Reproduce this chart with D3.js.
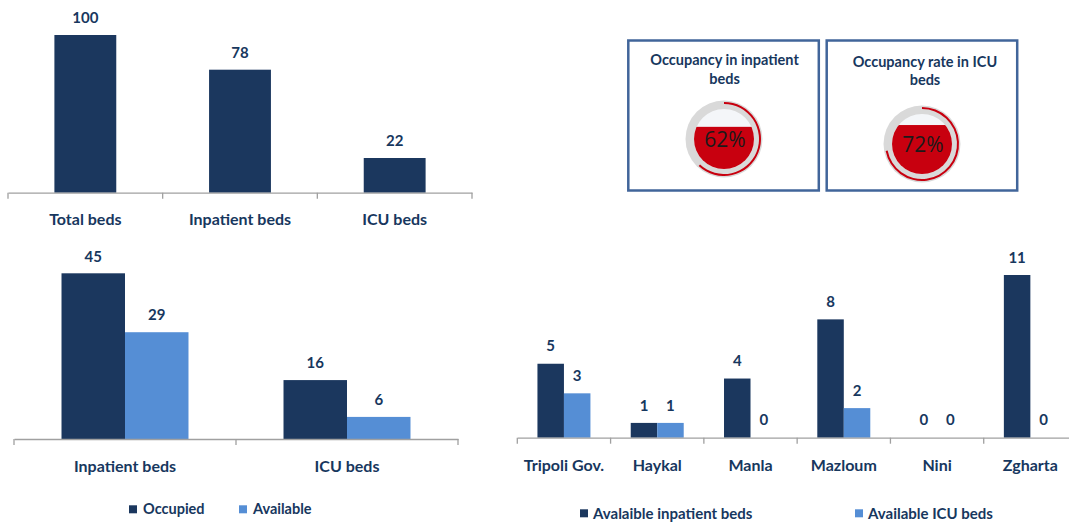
<!DOCTYPE html>
<html><head><meta charset="utf-8">
<script src="https://cdn.jsdelivr.net/npm/d3@7"></script>
<style>
html,body{margin:0;padding:0;background:#fff;}
svg{display:block;font-family:Lato,"Open Sans",sans-serif;}
</style></head>
<body>
<svg id="c" width="1069" height="522"></svg>
<script>
// ---- data ----
const summaryCats = ["Total beds", "Inpatient beds", "ICU beds"];
const summaryValues = [100, 78, 22];

const statusCats = ["Inpatient beds", "ICU beds"];
const occupiedValues = [45, 16];
const availableValues = [29, 6];
const statusLegend = ["Occupied", "Available"];

const hospitals = ["Tripoli Gov.", "Haykal", "Manla", "Mazloum", "Nini", "Zgharta"];
const availInpatient = [5, 1, 4, 8, 0, 11];
const availICU = [3, 1, 0, 2, 0, 0];
const hospitalLegend = ["Avalaible inpatient beds", "Available ICU beds"];

const gaugeTitles = [["Occupancy in inpatient", "beds"], ["Occupancy rate in ICU", "beds"]];
const gaugeValues = [62, 72];

// ---- style ----
const DARK = "#1b375e", LIGHT = "#558ed5", TXT = "#17375e", AX = "#a0a0a0";
const RED = "#c8000f";

const svg = d3.select("#c");
svg.append("rect").attr("width", 1069).attr("height", 522).attr("fill", "#fff");

function drawAxis(g, x, y0, pad, fs) {
  const ax = g.append("g").attr("transform", `translate(0,${y0})`)
    .call(d3.axisBottom(x).tickSize(0).tickPadding(pad));
  ax.select(".domain").attr("stroke", AX).attr("stroke-width", 1.3);
  ax.selectAll("text").attr("fill", TXT).attr("font-size", fs).attr("font-weight", 700)
    .attr("font-family", "Lato, sans-serif");
  const bounds = x.domain().map(d => x(d)).concat([x.range()[1]]);
  ax.selectAll(".bt").data(bounds).join("line").attr("class", "bt")
    .attr("x1", d => d).attr("x2", d => d).attr("y1", 0).attr("y2", 6)
    .attr("stroke", AX).attr("stroke-width", 1.3);
}

function valueLabel(g, x, y, v, fs) {
  g.append("text").attr("x", x).attr("y", y).attr("dy", "0.35em")
    .attr("text-anchor", "middle").attr("fill", TXT).attr("font-size", fs)
    .attr("font-weight", 700).text(v);
}

// ---- chart 1: summary ----
{
  const g = svg.append("g");
  const x = d3.scaleBand().domain(summaryCats).range([8, 472]).padding(0);
  const y = d3.scaleLinear().domain([0, 100]).range([192.7, 35]);
  const bw = x.bandwidth() * 0.4;
  summaryCats.forEach((c, i) => {
    const cx = x(c) + x.bandwidth() / 2;
    g.append("rect").attr("x", cx - bw / 2).attr("y", y(summaryValues[i]))
      .attr("width", bw).attr("height", y(0) - y(summaryValues[i])).attr("fill", DARK);
    valueLabel(g, cx, y(summaryValues[i]) - 17, summaryValues[i], 15);
  });
  drawAxis(g, x, 192.7, 20.5, 16);
}

// ---- chart 2: occupied vs available ----
{
  const g = svg.append("g");
  const x = d3.scaleBand().domain(statusCats).range([14, 458]).padding(0);
  const y = d3.scaleLinear().domain([0, 45]).range([439, 273.3]);
  const inner = d3.scaleBand().domain([0, 1]).range([0, x.bandwidth() * 0.572]);
  const series = [occupiedValues, availableValues];
  const colors = [DARK, LIGHT];
  statusCats.forEach((c, i) => {
    const x0 = x(c) + x.bandwidth() * (1 - 0.572) / 2;
    series.forEach((s, k) => {
      g.append("rect").attr("x", x0 + inner(k)).attr("y", y(s[i]))
        .attr("width", inner.bandwidth()).attr("height", y(0) - y(s[i])).attr("fill", colors[k]);
      valueLabel(g, x0 + inner(k) + inner.bandwidth() / 2, y(s[i]) - 17, s[i], 15);
    });
  });
  drawAxis(g, x, 439, 22, 16);
  const lx = [129, 239];
  statusLegend.forEach((t, k) => {
    g.append("rect").attr("x", lx[k]).attr("y", 509.3 - 4).attr("width", 8).attr("height", 8).attr("fill", colors[k]);
    g.append("text").attr("x", lx[k] + 14).attr("y", 509.3).attr("dy", "0.35em")
      .attr("fill", TXT).attr("font-size", 14.5).attr("font-weight", 700).text(t);
  });
}

// ---- chart 3: hospitals ----
{
  const g = svg.append("g");
  const x = d3.scaleBand().domain(hospitals).range([517.3, 1077]).padding(0);
  const y = d3.scaleLinear().domain([0, 11]).range([437.7, 275]);
  const frac = 0.568;
  const inner = d3.scaleBand().domain([0, 1]).range([0, x.bandwidth() * frac]);
  const series = [availInpatient, availICU];
  const colors = [DARK, LIGHT];
  hospitals.forEach((c, i) => {
    const x0 = x(c) + x.bandwidth() * (1 - frac) / 2;
    series.forEach((s, k) => {
      if (s[i] > 0) {
        g.append("rect").attr("x", x0 + inner(k)).attr("y", y(s[i]))
          .attr("width", inner.bandwidth()).attr("height", y(0) - y(s[i])).attr("fill", colors[k]);
      }
      valueLabel(g, x0 + inner(k) + inner.bandwidth() / 2, y(s[i]) - 17.5, s[i], 15);
    });
  });
  drawAxis(g, x, 437.7, 21.7, 16);
  const lx = [580, 855];
  hospitalLegend.forEach((t, k) => {
    g.append("rect").attr("x", lx[k]).attr("y", 513.3 - 4).attr("width", 8).attr("height", 8).attr("fill", colors[k]);
    g.append("text").attr("x", lx[k] + 13).attr("y", 513.3).attr("dy", "0.35em")
      .attr("fill", TXT).attr("font-size", 15).attr("font-weight", 700).text(t);
  });
}

// ---- gauges ----
{
  const boxes = [{x: 628.3, cx: 724, cy: 139}, {x: 826.7, cx: 922, cy: 144}];
  gaugeValues.forEach((v, i) => {
    const b = boxes[i];
    const g = svg.append("g");
    g.append("rect").attr("x", b.x).attr("y", 40.5).attr("width", 190.5).attr("height", 150)
      .attr("fill", "#fff").attr("stroke", "#41659a").attr("stroke-width", 2.5);
    const tcx = b.x + 190.5 / 2 + (i === 0 ? 1 : 3);
    gaugeTitles[i].forEach((t, j) => {
      g.append("text").attr("x", tcx).attr("y", (i === 0 ? 60 : 61.7) + j * 18.5).attr("dy", "0.35em")
        .attr("text-anchor", "middle").attr("fill", TXT).attr("font-size", 14.5)
        .attr("font-weight", 700).text(t);
    });
    const rOut = 38.5, rIn = 30;
    // gray ring
    g.append("circle").attr("cx", b.cx).attr("cy", b.cy).attr("r", rOut).attr("fill", "#d9d9d9");
    // inner circle background
    g.append("circle").attr("cx", b.cx).attr("cy", b.cy).attr("r", rIn).attr("fill", "#f4f6f9");
    // fill
    const clipId = "clip" + i;
    g.append("clipPath").attr("id", clipId).append("circle")
      .attr("cx", b.cx).attr("cy", b.cy).attr("r", rIn);
    const lvl = d3.scaleLinear().domain([0, 100]).range([b.cy + rIn, b.cy - rIn - 8]);
    g.append("rect").attr("clip-path", `url(#${clipId})`)
      .attr("x", b.cx - rIn).attr("y", lvl(v)).attr("width", rIn * 2)
      .attr("height", b.cy + rIn - lvl(v)).attr("fill", RED);
    // red progress arc
    const ang = d3.scaleLinear().domain([0, 100]).range([0, 2 * Math.PI]);
    const arc = d3.arc().innerRadius(rOut - 3.5).outerRadius(rOut - 1.5).startAngle(0).endAngle(ang(v));
    g.append("path").attr("transform", `translate(${b.cx},${b.cy})`).attr("d", arc()).attr("fill", RED);
    g.append("text").attr("x", b.cx + 1).attr("y", b.cy + 1).attr("dy", "0.35em")
      .attr("text-anchor", "middle").attr("fill", "#1a1a1a").attr("font-size", 21)
      .attr("font-family", "'Open Sans', Lato, sans-serif").text(v + "%");
  });
}
</script>
</body></html>
